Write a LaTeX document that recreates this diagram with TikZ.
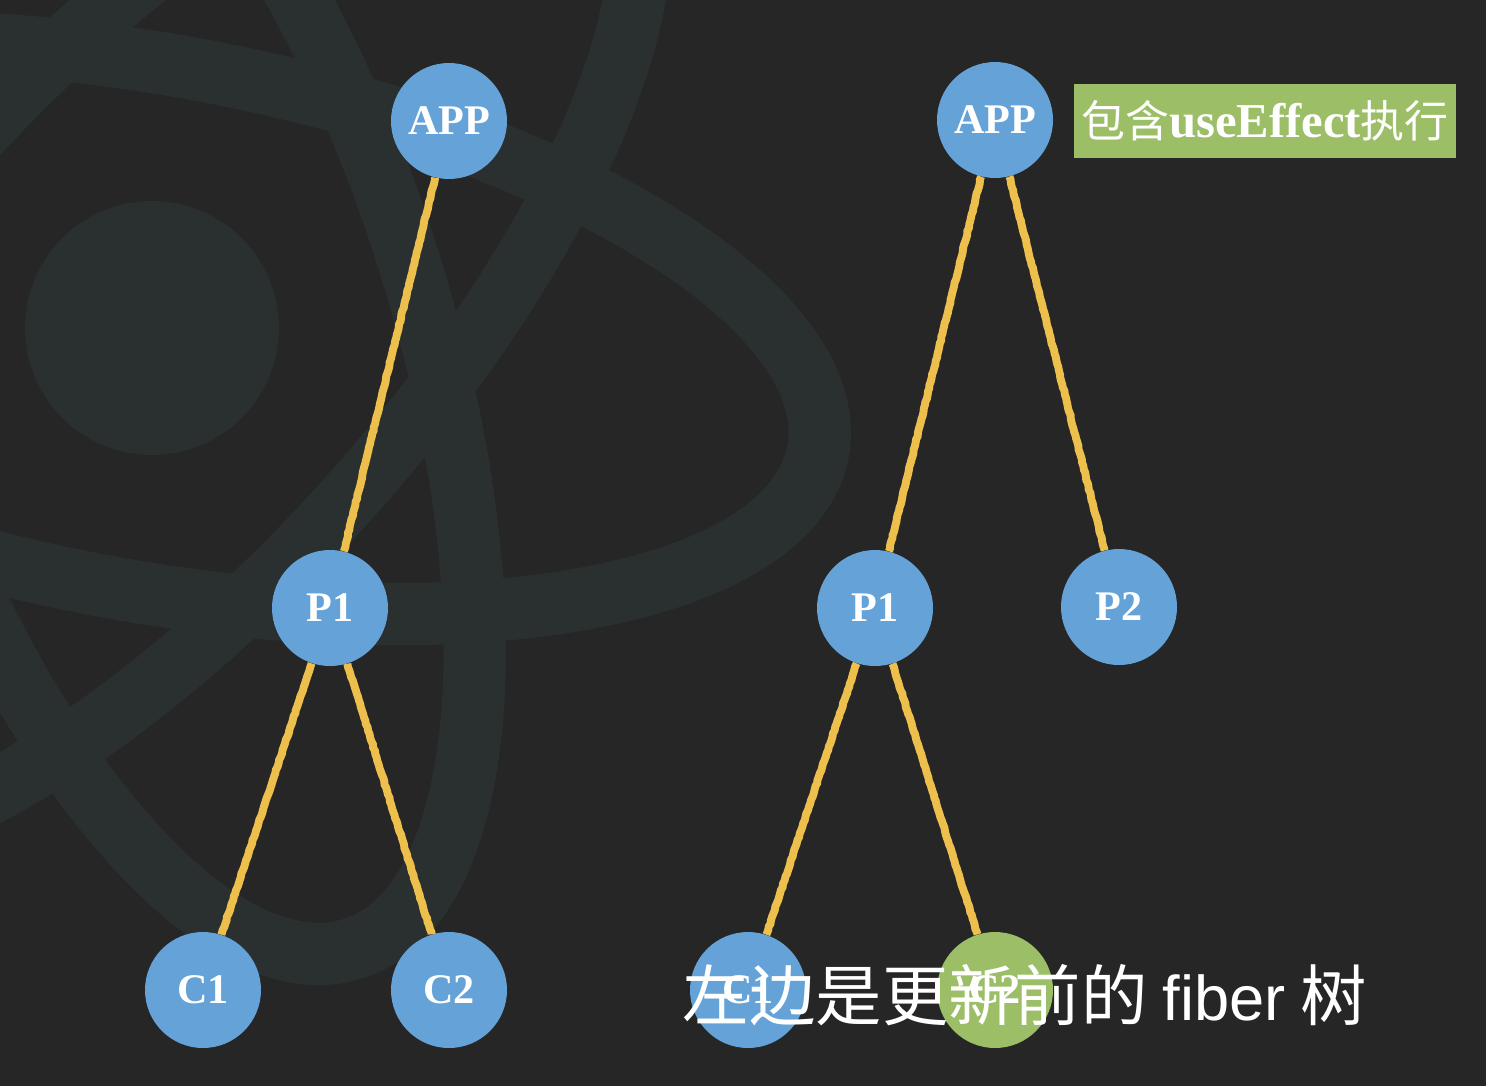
\documentclass[tikz,border=0pt]{standalone}
\usepackage{fontspec}
\setmainfont{Liberation Serif}
\newfontfamily\cjk{Noto Sans CJK SC}
\newfontfamily\latinsans{Liberation Sans}
\usetikzlibrary{decorations.pathmorphing}

\definecolor{bgdark}{HTML}{262626}
\definecolor{logoband}{HTML}{2A2F2F}
\definecolor{nodeblue}{HTML}{64A2D8}
\definecolor{nodegreen}{HTML}{9BBE67}
\definecolor{chalk}{HTML}{EDBF4D}

\tikzset{
  fibernode/.style={circle, fill=nodeblue, inner sep=0pt, minimum size=2.32cm, text=white, font=\fontsize{24}{24}\selectfont\bfseries},
  fiberedge/.style={draw=chalk, line width=4.5pt, decorate, decoration={random steps, segment length=2pt, amplitude=0.25pt}},
  logoline/.style={draw=logoband, line width=1.25cm},
}

\begin{document}
\begin{tikzpicture}[x=0.02cm, y=-0.02cm]
    \fill[bgdark] (0, 0) rectangle (1486, 1086);
    \useasboundingbox (0, 0) rectangle (1486, 1086);
    % logo
    \begin{scope}
        \clip (0, 0) rectangle (1486, 1086);
        \fill[logoband] (152, 328) circle (2.54cm);
        \draw[logoline, rotate around={-10.5:(152, 328)}] (152, 328) ellipse (13.55cm and 5.25cm);
        \draw[logoline, rotate around={-72:(152, 328)}] (152, 328) ellipse (13.05cm and 5.3cm);
        \draw[logoline, rotate around={-132:(152, 328)}] (152, 328) ellipse (13.4cm and 5.2cm);
    \end{scope}
    % left tree
    \node[fibernode] (0) at (449, 121) {APP};
    \node[fibernode] (1) at (330, 608) {P1};
    \node[fibernode] (2) at (203, 990) {C1};
    \node[fibernode] (3) at (449, 990) {C2};
    \draw[fiberedge] (0) -- (1);
    \draw[fiberedge] (1) -- (2);
    \draw[fiberedge] (1) -- (3);
    % right tree
    \node[fibernode] (4) at (995, 120) {APP};
    \node[fibernode] (5) at (875, 608) {P1};
    \node[fibernode] (6) at (1119, 607) {P2};
    \node[fibernode] (7) at (748, 990) {C1};
    \node[fibernode, fill=nodegreen] (8) at (995, 990) {C2};
    \draw[fiberedge] (4) -- (5);
    \draw[fiberedge] (4) -- (6);
    \draw[fiberedge] (5) -- (7);
    \draw[fiberedge] (5) -- (8);
    \node[fill=nodegreen, text=white, inner sep=0pt, minimum width=7.64cm, minimum height=1.48cm] (9) at (1265, 121)
        {\fontsize{25}{25}\cjk 包含\fontsize{27.7}{27.7}\rmfamily\bfseries useEffect\fontsize{25}{25}\mdseries\cjk 执行};
    % subtitle
    \node[text=white, inner sep=0pt] (10) at (1025, 995)
        {\fontsize{37.8}{37.8}\cjk 左边是更新前的\hspace{0.3cm}{\latinsans\fontsize{36}{36}\selectfont fiber}\hspace{0.3cm}树};
\end{tikzpicture}
\end{document}
